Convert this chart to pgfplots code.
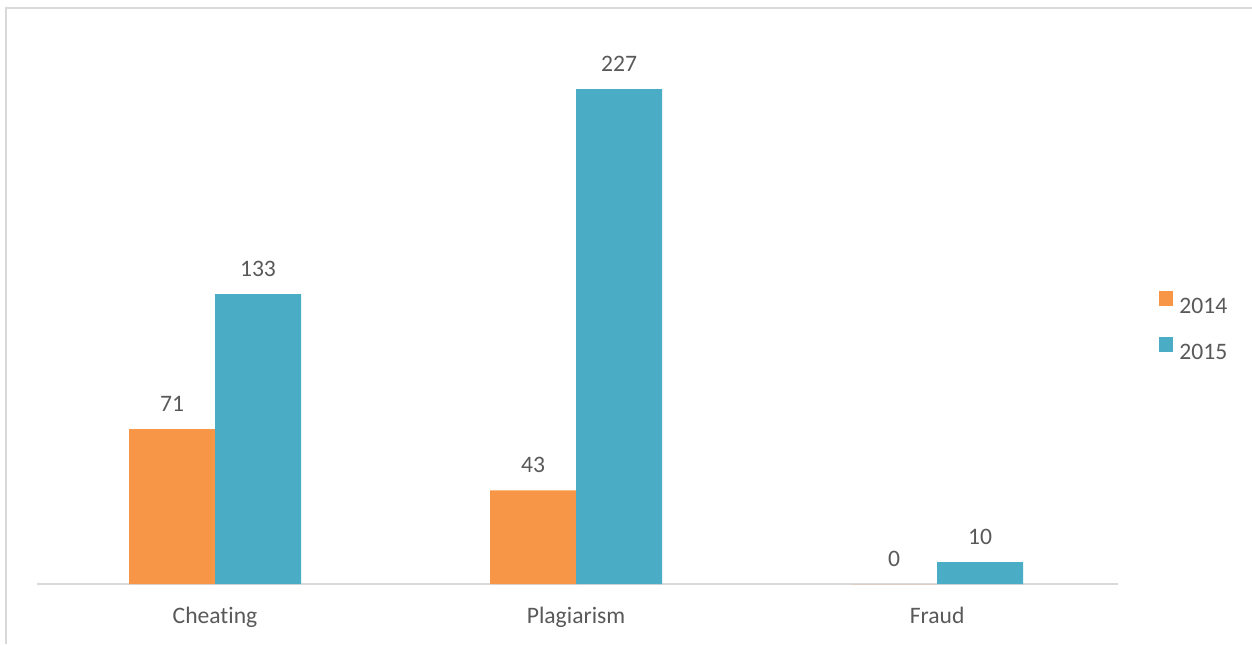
\documentclass[border=0pt]{standalone}
\usepackage{pgfplots}
\pgfplotsset{compat=1.18}
\usepackage{fontspec}
\setmainfont{Carlito}[Ligatures=NoCommon]
\definecolor{cOrange}{HTML}{F79646}
\definecolor{cBlue}{HTML}{4BACC6}
\definecolor{cText}{HTML}{595959}
\definecolor{cLine}{HTML}{D9D9D9}
\begin{document}
\begin{tikzpicture}
\useasboundingbox (0,0) rectangle (626pt,322pt);
\draw[cLine, line width=1pt] (2.75pt,0pt) -- (2.75pt,318pt) -- (626pt,318pt);
\begin{axis}[
  at={(18.5pt,30pt)}, anchor=south west,
  scale only axis, width=540.5pt, height=272.5pt,
  ybar=0pt, bar width=43pt,
  xmin=-0.493, xmax=2.501, ymin=0, ymax=250,
  xtick={0,1,2}, xticklabels={Cheating,Plagiarism,Fraud},
  xtick style={draw=none},
  hide y axis,
  axis x line*=bottom,
  x axis line style={cLine, line width=1pt, -},
  xticklabel style={anchor=base, yshift=-15.5pt, inner sep=0pt, text=cText, font=\fontsize{11.8}{14}\selectfont},
  clip=false,
  /pgf/number format/assume math mode=true,
  nodes near coords,
  every node near coord/.append style={anchor=base, inner sep=0pt, yshift=9pt, text=cText, font=\fontsize{11.8}{14}\selectfont},
  legend style={draw=none, fill=none, inner sep=0pt, at={(1.038,0.539)}, anchor=north west,
    font=\fontsize{11.8}{14}\selectfont, text=cText,
    nodes={inner sep=0pt, text height=8pt, text depth=0pt},
    row sep=11.5pt, column sep=3pt},
  legend cell align=left,
  legend image code/.code={\fill[#1] (0pt,0pt) rectangle (7pt,7.5pt);},
]
\addplot[fill=cOrange, draw=none] coordinates {(0,71) (1,43) (2,0)};
\addplot[fill=cBlue, draw=none] coordinates {(0,133) (1,227) (2,10)};
\legend{2014,2015}
\end{axis}
\end{tikzpicture}
\end{document}
